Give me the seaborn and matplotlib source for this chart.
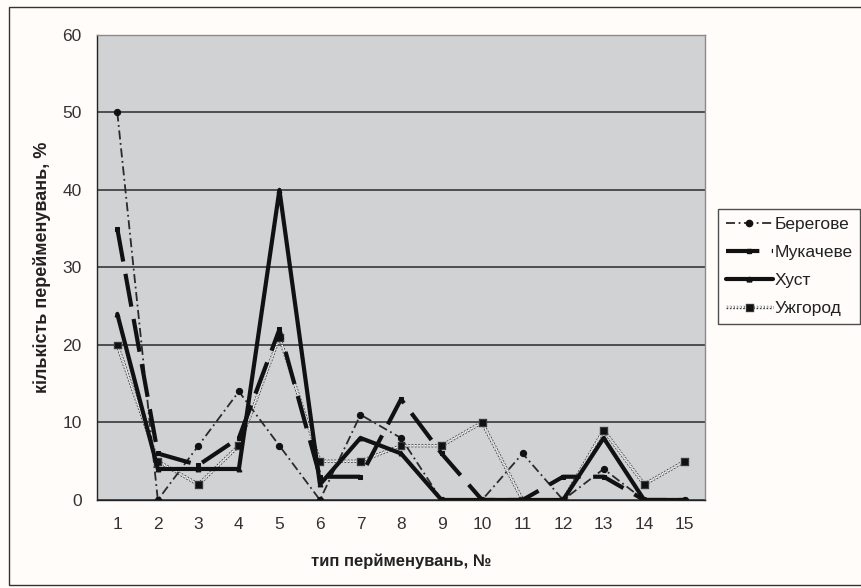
import matplotlib
matplotlib.use("Agg")
import matplotlib.pyplot as plt
import matplotlib.patheffects as pe
from matplotlib.lines import Line2D
from matplotlib.patches import Rectangle
import seaborn as sns
import pandas as pd

types = list(range(1, 16))
tick_labels = [str(t) for t in types]
beregove = [50, 0, 7, 14, 7, 0, 11, 8, 0, 0, 6, 0, 4, 0, 0]
mukacheve = [35, 6, 4.5, 8, 22, 3, 3, 13, 6, 0, 0, 3, 3, 0, 0]
khust = [24, 4, 4, 4, 40, 2, 8, 6, 0, 0, 0, 0, 8, 0, 0]
uzhhorod = [20, 5, 2, 7, 21, 5, 5, 7, 7, 10, 0, 0, 9, 2, 5]
series_names = ["Берегове", "Мукачеве", "Хуст", "Ужгород"]
yticks = [0, 10, 20, 30, 40, 50, 60]

sns.set_theme(style="white")
plt.rcParams['font.family'] = ['Liberation Sans', 'DejaVu Sans']

fig = plt.figure(figsize=(8.61, 5.88), dpi=100)
fig.patch.set_facecolor('#FFFCF9')
ax = fig.add_axes([0.1127, 0.1497, 0.8188 - 0.1127, 0.9405 - 0.1497])
ax.set_facecolor('#D1D2D4')

df = pd.DataFrame({"type": types, series_names[0]: beregove, series_names[1]: mukacheve,
                   series_names[2]: khust, series_names[3]: uzhhorod})

styles = {
    "Берегове": dict(color='#2a2a2a', lw=1.3, ls=(0, (5, 2, 1, 2)), marker='o', ms=4.5, pe=None),
    "Мукачеве": dict(color='#111111', lw=3.0, ls=(0, (8, 3)), marker='s', ms=3.5, pe=None),
    "Хуст": dict(color='#111111', lw=3.0, ls='-', marker='^', ms=3.5, pe=None),
    "Ужгород": dict(color='white', lw=1.2, ls=(0, (1, 1)), marker='s', ms=3.5,
                    pe=[pe.Stroke(linewidth=2.4, foreground='#3a3a3a'), pe.Normal()]),
}
order = ["Ужгород", "Берегове", "Мукачеве", "Хуст"]
for name in order:
    st = styles[name]
    sns.lineplot(data=df, x="type", y=name, ax=ax, color=st['color'], linewidth=st['lw'],
                 linestyle=st['ls'], marker=st['marker'], markersize=st['ms'],
                 markerfacecolor='#111111', markeredgecolor='#111111', legend=False,
                 path_effects=st['pe'])

ax.set_xlim(0.5, 15.5)
ax.set_ylim(0, 60)
ax.set_yticks(yticks)
ax.set_yticklabels([str(v) for v in yticks], fontsize=12.5, color='#333333')
ax.set_xticks(types)
ax.set_xticklabels(tick_labels, fontsize=12.5, color='#333333')
ax.set_xticks([t + 0.5 for t in [0] + types], minor=True)
ax.tick_params(axis='x', which='major', length=0, pad=12)
ax.tick_params(axis='x', which='minor', length=5, width=1, color='#222222', direction='out')
ax.tick_params(axis='y', which='major', length=5, width=1, color='#222222', direction='out', pad=6)
ax.yaxis.grid(True, color='#2a2a2a', linewidth=1.1)
ax.set_axisbelow(True)
for s in ['top', 'right']:
    ax.spines[s].set_color('#8a8a8a')
    ax.spines[s].set_linewidth(1.0)
for s in ['left', 'bottom']:
    ax.spines[s].set_color('#222222')
    ax.spines[s].set_linewidth(1.0)

ax.set_xlabel("тип перйменувань, №", fontsize=12, fontweight='bold', color='#222222')
ax.set_ylabel("кількість перейменувань, %", fontsize=13, fontweight='bold', color='#222222')
ax.xaxis.set_label_coords(0.5, -0.115)
ax.yaxis.set_label_coords(-0.075, 0.5)

handles = []
for name in series_names:
    st = styles[name]
    h = Line2D([0], [0], color=st['color'], lw=st['lw'], ls=st['ls'], marker=st['marker'],
               ms=st['ms'], markerfacecolor='#111111', markeredgecolor='#111111')
    if st['pe']:
        h.set_path_effects(st['pe'])
    handles.append(h)
leg = fig.legend(handles, series_names, loc='upper left', bbox_to_anchor=(718 / 861, 1 - 209 / 588),
                 fontsize=12.5, frameon=True, fancybox=False, edgecolor='#222222',
                 handlelength=2.7, handletextpad=0.1, borderpad=0.45, labelspacing=0.75,
                 borderaxespad=0)
leg.get_frame().set_linewidth(1.0)
leg.get_frame().set_facecolor('#FFFCF9')
for t in leg.get_texts():
    t.set_color('#222222')

fig.patches.append(Rectangle((9 / 861, 3 / 588), 1.0, 1 - 10 / 588, transform=fig.transFigure,
                             fill=False, edgecolor='#333333', linewidth=1.0))

fig.savefig("out.png", dpi=100, facecolor=fig.get_facecolor())
